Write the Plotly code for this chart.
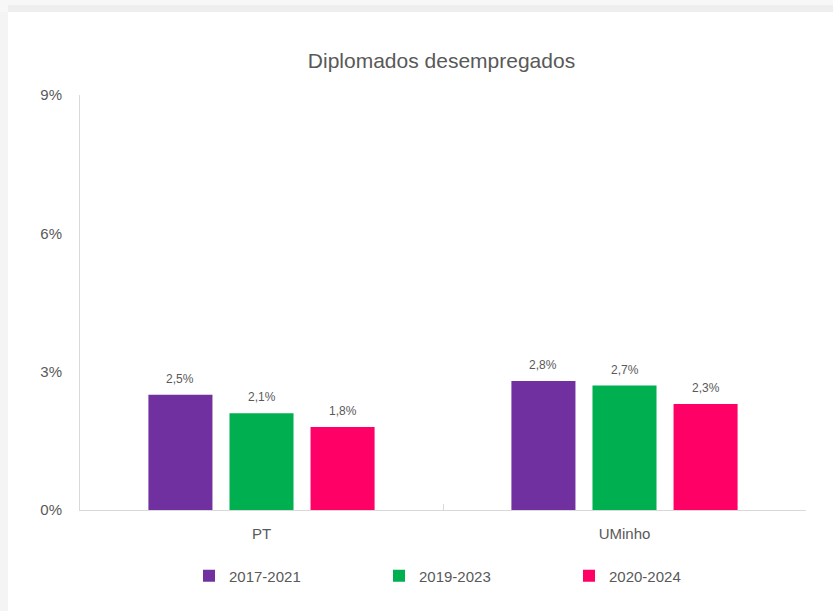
import plotly.graph_objects as go

categories = ["PT", "UMinho"]
series_names = ["2017-2021", "2019-2023", "2020-2024"]
values_2017_2021 = [2.5, 2.8]
values_2019_2023 = [2.1, 2.7]
values_2020_2024 = [1.8, 2.3]
colors = ["#7030A0", "#00B050", "#FF0066"]
y_ticks = [0, 3, 6, 9]
y_tick_labels = ["0%", "3%", "6%", "9%"]

all_values = [values_2017_2021, values_2019_2023, values_2020_2024]

W, H = 833, 611
l, r, t, b = 80, 27, 95, 101
pw, ph = W - l - r, H - t - b

def px_x(p):
    return (p - l) / pw

def px_y(p):
    return (H - b - p) / ph

fig = go.Figure()
annotations = []
slot_px = pw / len(categories) * (1 - 0.33) / len(series_names)
for i, (name, vals, col) in enumerate(zip(series_names, all_values, colors)):
    fig.add_trace(go.Bar(
        x=categories, y=vals, name=name,
        marker=dict(color=col, line=dict(width=0)),
        hoverinfo="skip",
    ))
    for c, v in zip(categories, vals):
        annotations.append(dict(
            x=c, y=v, xref="x", yref="y", text=f"{v:.1f}".replace(".", ",") + "%",
            showarrow=False, yanchor="bottom", yshift=7, xshift=(i - 1) * slot_px,
            font=dict(family="Liberation Sans Narrow, Liberation Sans, Arial", size=12, color="#595959"),
        ))

shapes = [
    dict(type="rect", xref="paper", yref="paper", x0=px_x(0), x1=px_x(W), y0=px_y(0), y1=px_y(12),
         fillcolor="#f7f7f7", line=dict(width=0), layer="below"),
    dict(type="rect", xref="paper", yref="paper", x0=px_x(8), x1=px_x(W), y0=px_y(5), y1=px_y(12),
         fillcolor="#eeeeee", line=dict(width=0), layer="below"),
    dict(type="rect", xref="paper", yref="paper", x0=px_x(0), x1=px_x(8), y0=px_y(H), y1=px_y(12),
         fillcolor="#f4f4f4", line=dict(width=0), layer="below"),
]

fig.update_layout(
    width=W, height=H,
    margin=dict(l=l, r=r, t=t, b=b, autoexpand=False),
    paper_bgcolor="white", plot_bgcolor="white",
    shapes=shapes, annotations=annotations,
    title=dict(text="Diplomados desempregados", x=0.53, xanchor="center", y=1 - 61 / H, yanchor="middle",
               font=dict(family="Liberation Sans Narrow, Liberation Sans, Arial", size=21, color="#595959")),
    barmode="group", bargap=0.33, bargroupgap=0.21,
    showlegend=True,
    legend=dict(orientation="h", x=px_x(189), xanchor="left", y=(H - b - 576) / ph, yanchor="middle",
                entrywidth=145, entrywidthmode="pixels", traceorder="normal", itemwidth=30,
                font=dict(family="Liberation Sans, Arial", size=15, color="#595959"),
                itemsizing="constant"),
    xaxis=dict(showline=True, linecolor="#d9d9d9", linewidth=1, ticks="inside", ticklen=6,
               tickcolor="#d9d9d9", tickson="boundaries", ticklabelstandoff=10,
               tickfont=dict(family="Liberation Sans, Arial", size=15, color="#595959"), showgrid=False),
    yaxis=dict(range=[0, 9], tickvals=y_ticks, ticktext=y_tick_labels, showline=True, linecolor="#d9d9d9",
               linewidth=1, showgrid=False, zeroline=False, ticks="", ticklabelstandoff=14,
               tickfont=dict(family="Liberation Sans Narrow, Liberation Sans, Arial", size=15, color="#595959")),
)

fig.write_html("out.html", post_script="document.body.style.margin='0';",
               config={"displayModeBar": False})
